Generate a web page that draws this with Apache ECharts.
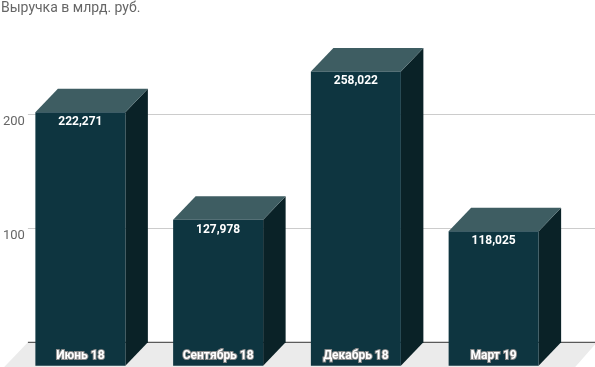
<!DOCTYPE html>
<html>
<head>
<meta charset="utf-8">
<script src="https://cdn.jsdelivr.net/npm/echarts@6/dist/echarts.min.js"></script>
<style>
html,body{margin:0;padding:0;background:#fff;}
#chart{width:595px;height:367px;}
</style>
</head>
<body>
<div id="chart"></div>
<script>
var categories = ['Июнь 18', 'Сентябрь 18', 'Декабрь 18', 'Март 19'];
var values = [222.271, 127.978, 258.022, 118.025];
var yTicks = [0, 100, 200, 300];
var gridTicks = [100, 200];
var titleText = 'Выручка в млрд. руб.';

var FRONT = '#0e3540', TOP = '#3e5d62', SIDE = '#0a2227';
var DX = 22.5, DY = 23.5, BAR_W = 90;

function fmt(v){ return v.toFixed(3).replace('.', ','); }

var chart = echarts.init(document.getElementById('chart'), null, {renderer:'canvas'});

var gridTop = -1, gridBottom = 24.7;

chart.setOption({
  animation: false,
  textStyle: {fontFamily: 'Roboto'},
  title: {
    text: titleText, left: 1, top: 1, padding: 0,
    textStyle: {fontFamily: 'Roboto', fontSize: 14, fontWeight: 'normal', color: '#666'}
  },
  grid: [
    {left: 27, right: 0, top: gridTop, bottom: gridBottom},
    {left: 34, right: 10, top: gridTop, bottom: gridBottom}
  ],
  xAxis: [
    {gridIndex: 0, type: 'value', min: 0, max: 1, show: false},
    {gridIndex: 1, type: 'category', data: categories, z: 20,
     axisLine: {show: false}, axisTick: {show: false},
     axisLabel: {
       margin: 8, verticalAlign: 'top', padding: [0, 45, 0, 0],
       fontFamily: 'Roboto', fontSize: 12, fontWeight: 'bold', color: '#fff',
       textBorderColor: '#8a8a8a', textBorderWidth: 2
     }}
  ],
  yAxis: [
    {gridIndex: 0, type: 'value', min: yTicks[0], max: yTicks[yTicks.length-1], interval: 100,
     axisLine: {show: false}, axisTick: {show: false},
     axisLabel: {showMinLabel: false, showMaxLabel: false, margin: 3, verticalAlign: 'top', padding: [1, 0, 0, 0],
       fontFamily: 'Roboto', fontSize: 13, color: '#666'},
     splitLine: {show: false}},
    {gridIndex: 1, type: 'value', min: yTicks[0], max: yTicks[yTicks.length-1], interval: 100, show: false}
  ],
  series: [
    {
      type: 'custom', xAxisIndex: 0, yAxisIndex: 0, z: 1, silent: true,
      data: [[0, 0]],
      renderItem: function(params, api){
        var cs = params.coordSys;
        var y0 = api.coord([0, 0])[1];
        var x0 = cs.x, x1 = cs.x + cs.width + 2;
        var children = [];
        gridTicks.forEach(function(t){
          var y = Math.round(api.coord([0, t])[1]) + 0.5;
          children.push({type: 'line', shape: {x1: x0, y1: y, x2: x1, y2: y}, style: {stroke: '#cccccc', lineWidth: 1}});
        });
        children.push({type: 'polygon', shape: {points: [[x0, y0], [x1, y0], [x1 - DX, y0 + DY + 2], [x0 - DX - 2, y0 + DY + 2]]},
           style: {fill: '#ebebeb'}});
        children.push({type: 'line', shape: {x1: x0, y1: y0, x2: x1, y2: y0}, style: {stroke: '#333', lineWidth: 1}});
        return {type: 'group', children: children};
      }
    },
    {
      type: 'custom', xAxisIndex: 1, yAxisIndex: 1, z: 5,
      data: values.map(function(v, i){ return [i, v]; }),
      renderItem: function(params, api){
        var i = api.value(0), v = api.value(1);
        var top = api.coord([i, v]);
        var base = api.coord([i, 0]);
        var bx = top[0] - BAR_W / 2, ty = top[1], by = base[1];
        var fx = bx - DX, fty = ty + DY, fby = by + DY;
        return {type: 'group', children: [
          {type: 'polygon', shape: {points: [[bx + BAR_W - DX, fty], [bx + BAR_W, ty], [bx + BAR_W, by], [bx + BAR_W - DX, fby]]},
           style: {fill: SIDE}},
          {type: 'polygon', shape: {points: [[fx, fty], [bx, ty], [bx + BAR_W, ty], [fx + BAR_W, fty]]},
           style: {fill: TOP}},
          {type: 'rect', shape: {x: fx, y: fty, width: BAR_W, height: fby - fty},
           style: {fill: FRONT}},
          {type: 'text', x: fx + BAR_W / 2, y: fty + 10,
           style: {text: fmt(v), fill: '#fff', align: 'center', verticalAlign: 'middle',
             font: 'bold 12px Roboto', stroke: '#0e3540', lineWidth: 1}}
        ]};
      }
    }
  ]
});
</script>
</body>
</html>
